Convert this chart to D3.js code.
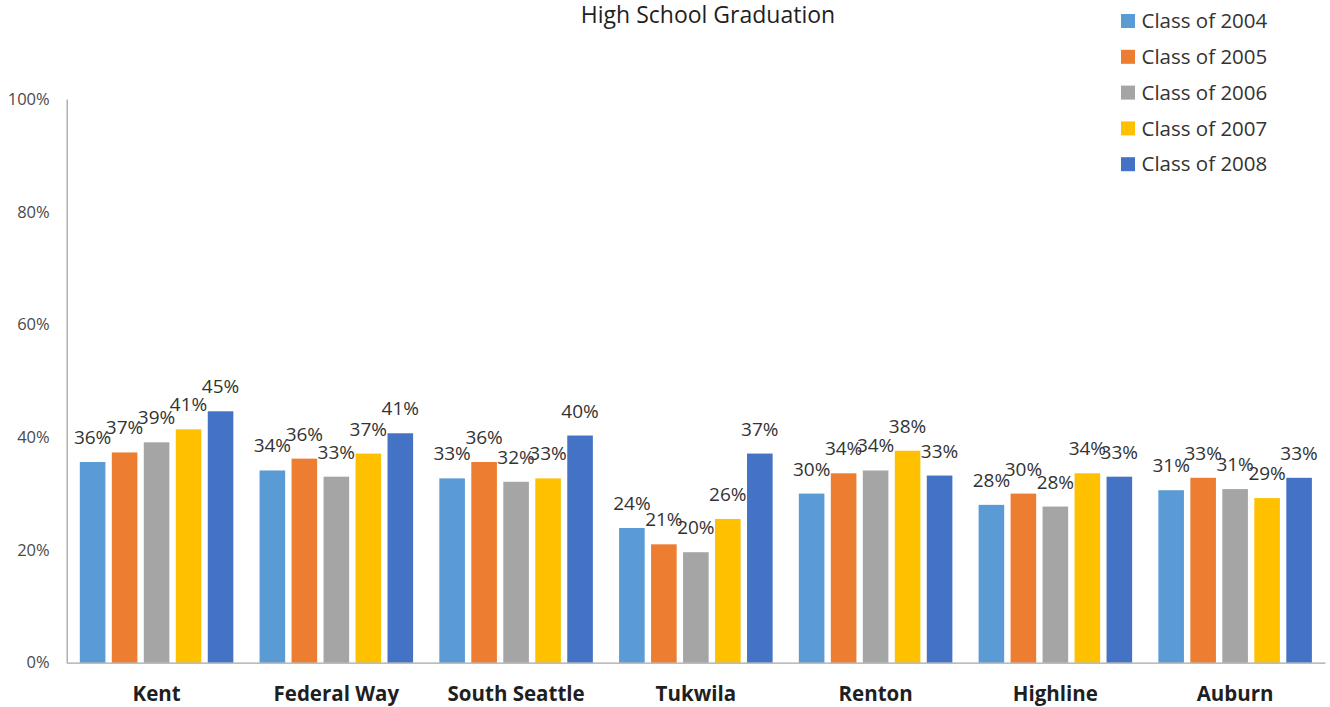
<!DOCTYPE html>
<html>
<head>
<meta charset="utf-8">
<script src="https://cdn.jsdelivr.net/npm/d3@7"></script>
<style>
  body { margin: 0; background: #fff; }
  text { font-family: "Open Sans", sans-serif; }
</style>
</head>
<body>
<div id="chart"></div>
<script>
// districts along the x axis
const districts = ["Kent", "Federal Way", "South Seattle", "Tukwila", "Renton", "Highline", "Auburn"];
const seriesNames = ["Class of 2004", "Class of 2005", "Class of 2006", "Class of 2007", "Class of 2008"];
const yTicks = [0, 0.2, 0.4, 0.6, 0.8, 1];

// graduation rate per district, one array per class
const class2004 = [0.356, 0.341, 0.327, 0.239, 0.300, 0.280, 0.306];
const class2005 = [0.373, 0.362, 0.356, 0.210, 0.336, 0.300, 0.328];
const class2006 = [0.391, 0.330, 0.321, 0.196, 0.341, 0.277, 0.308];
const class2007 = [0.414, 0.371, 0.327, 0.255, 0.376, 0.336, 0.292];
const class2008 = [0.446, 0.407, 0.403, 0.371, 0.332, 0.330, 0.328];

const seriesValues = [class2004, class2005, class2006, class2007, class2008];
const colors = ["#5B9BD5", "#ED7D31", "#A5A5A5", "#FFC000", "#4472C4"];

const W = 1330, H = 707;
const plotLeft = 66.7, plotRight = 1325, plotTop = 99, plotBottom = 662.7;

const svg = d3.select("#chart").append("svg")
    .attr("width", W)
    .attr("height", H);

const x0 = d3.scaleBand()
    .domain(districts)
    .range([plotLeft, plotRight])
    .padding(0);

const x1 = d3.scaleBand()
    .domain(seriesNames)
    .range([0, x0.bandwidth()])
    .paddingInner(0.2)
    .paddingOuter(0.41);

const y = d3.scaleLinear()
    .domain([0, 1])
    .range([plotBottom, plotTop]);

// y axis
const yAxis = svg.append("g")
    .attr("transform", `translate(${plotLeft},0)`)
    .call(d3.axisLeft(y).tickValues(yTicks).tickFormat(d3.format(".0%")).tickSize(0).tickSizeOuter(0).tickPadding(17));
yAxis.select(".domain").attr("stroke", "#a6a6a6").attr("stroke-width", 1.3);
yAxis.selectAll("text").attr("font-size", 16.5).attr("fill", "#4a4a4a").attr("font-family", "Open Sans");

// bars
const groups = svg.append("g")
    .selectAll("g")
    .data(seriesNames)
    .join("g")
    .attr("fill", (d, i) => colors[i]);

groups.selectAll("rect")
    .data((s, i) => seriesValues[i].map((v, j) => ({ s: s, d: districts[j], v: v })))
    .join("rect")
    .attr("x", d => x0(d.d) + x1(d.s))
    .attr("y", d => y(d.v))
    .attr("width", x1.bandwidth())
    .attr("height", d => y(0) - y(d.v));

// value labels
groups.selectAll("text")
    .data((s, i) => seriesValues[i].map((v, j) => ({ s: s, d: districts[j], v: v })))
    .join("text")
    .attr("x", d => x0(d.d) + x1(d.s) + x1.bandwidth() / 2)
    .attr("y", d => y(d.v) - 18)
    .attr("text-anchor", "middle")
    .attr("font-size", 19)
    .attr("fill", "#333333")
    .text(d => d3.format(".0%")(d.v));

// x axis
const xAxis = svg.append("g")
    .attr("transform", `translate(0,${plotBottom})`)
    .call(d3.axisBottom(x0).tickSize(0).tickSizeOuter(0).tickPadding(24));
xAxis.select(".domain").attr("stroke", "#a6a6a6").attr("stroke-width", 1.3);
xAxis.selectAll("text")
    .attr("font-size", 20.5)
    .attr("font-weight", "bold")
    .attr("fill", "#1f1f1f")
    .attr("font-family", "Open Sans");

// title
svg.append("text")
    .attr("x", 708)
    .attr("y", 23)
    .attr("text-anchor", "middle")
    .attr("font-size", 23)
    .attr("fill", "#1f1f1f")
    .text("High School Graduation");

// legend
const legend = svg.append("g")
    .selectAll("g")
    .data(seriesNames)
    .join("g")
    .attr("transform", (d, i) => `translate(1121,${21 + i * 35.8})`);

legend.append("rect")
    .attr("x", 0)
    .attr("y", -7)
    .attr("width", 14)
    .attr("height", 14)
    .attr("fill", (d, i) => colors[i]);

legend.append("text")
    .attr("x", 20.5)
    .attr("y", 0)
    .attr("dy", "0.35em")
    .attr("font-size", 20.5)
    .attr("fill", "#333333")
    .text(d => d);
</script>
</body>
</html>
